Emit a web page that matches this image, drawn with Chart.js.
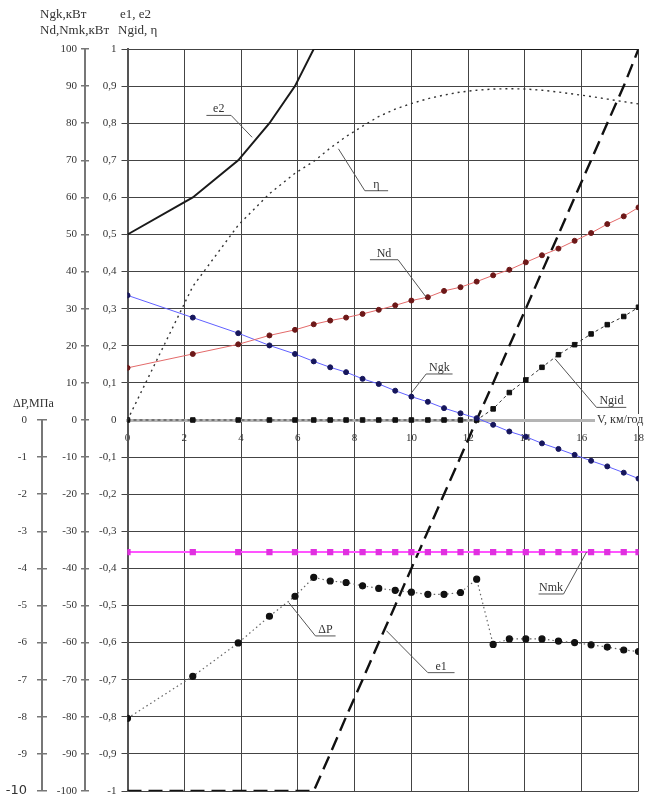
<!DOCTYPE html>
<html>
<head>
<meta charset="utf-8">
<script src="https://cdn.jsdelivr.net/npm/chart.js@4.4.1/dist/chart.umd.min.js"></script>
<style>
  html, body { margin: 0; padding: 0; background: #fff; }
</style>
</head>
<body>
<canvas id="chart" width="656" height="803"></canvas>
<script>
// ============================
// Data
// ============================
const V = [0, 2.3, 3.9, 5.0, 5.9, 6.56, 7.14, 7.7, 8.28, 8.85, 9.43, 10.0, 10.58,
  11.15, 11.73, 12.3, 12.88, 13.45, 14.03, 14.6, 15.18, 15.75, 16.33, 16.9, 17.48, 18.0];

// kW
const Nd = [14.05, 17.8, 20.4, 22.8, 24.3, 25.8, 26.8, 27.6, 28.6, 29.7, 30.9, 32.2, 33.1,
  34.8, 35.8, 37.3, 39.0, 40.5, 42.5, 44.4, 46.2, 48.3, 50.4, 52.8, 54.9, 57.3];
const Ngk = [33.6, 27.6, 23.4, 20.1, 17.8, 15.8, 14.2, 12.9, 11.1, 9.7, 7.9, 6.3, 4.9,
  3.2, 1.8, 0.5, -1.3, -3.1, -4.5, -6.3, -7.8, -9.4, -11.0, -12.5, -14.2, -15.8];
const Nmk = [-35.6, -35.6, -35.6, -35.6, -35.6, -35.6, -35.6, -35.6, -35.6, -35.6, -35.6, -35.6, -35.6,
  -35.6, -35.6, -35.6, -35.6, -35.6, -35.6, -35.6, -35.6, -35.6, -35.6, -35.6, -35.6, -35.6];

// dimensionless
const e1 = [-1, -1, -1, -1, -1, -1, -0.9, -0.8, -0.7, -0.6, -0.5, -0.4, -0.3,
  -0.2, -0.1, 0, 0.1, 0.2, 0.3, 0.4, 0.5, 0.6, 0.7, 0.8, 0.9, 1.0];
const e2 = [0.5, 0.6, 0.7, 0.8, 0.9, 1, 1, 1, 1, 1, 1, 1, 1,
  1, 1, 1, 1, 1, 1, 1, 1, 1, 1, 1, 1, 1];
const eta = [0, 0.36, 0.525, 0.61, 0.665, 0.697, 0.733, 0.764, 0.792, 0.818, 0.838, 0.853, 0.866,
  0.876, 0.884, 0.889, 0.892, 0.893, 0.892, 0.889, 0.884, 0.878, 0.872, 0.865, 0.858, 0.852];
const Ngid = [0, 0, 0, 0, 0, 0, 0, 0, 0, 0, 0, 0, 0,
  0, 0, 0, 0.03, 0.074, 0.108, 0.142, 0.176, 0.203, 0.232, 0.257, 0.279, 0.304];

// MPa
const dP = [-8.04, -6.91, -6.01, -5.29, -4.75, -4.24, -4.34, -4.38, -4.47, -4.54, -4.59, -4.64, -4.70,
  -4.70, -4.65, -4.29, -6.05, -5.9, -5.9, -5.9, -5.96, -6.0, -6.06, -6.12, -6.2, -6.24];

// ============================
// Styles
// ============================
const SERIF = "'Liberation Serif', 'Times New Roman', serif";
const TICK_FONT = { family: SERIF, size: 11 };
const TEXT = "#333";
const GRID = "#444";
const AXIS = "#777";

// callouts: curve point -> joint -> end of underline, in (V, N) units
const callouts = [
  { text: "e2", curve: [4.39, 76.2], joint: [3.65, 82.1], end: [2.78, 82.1] },
  { text: "η", curve: [7.43, 73.1], joint: [8.36, 61.8], end: [9.18, 61.8] },
  { text: "Nd", curve: [10.52, 33.1], joint: [9.53, 43.2], end: [8.54, 43.2] },
  { text: "Ngk", curve: [9.99, 7.2], joint: [10.52, 12.4], end: [11.45, 12.4] },
  { text: "Ngid", curve: [15.06, 16.5], joint: [16.52, 3.4], end: [17.57, 3.4] },
  { text: "Nmk", curve: [16.17, -35.6], joint: [15.36, -46.9], end: [14.48, -46.9] },
  { text: "ΔP", curve: [5.68, -49.2], joint: [6.62, -58.2], end: [7.33, -58.2] },
  { text: "e1", curve: [9.12, -56.8], joint: [10.58, -68.1], end: [11.52, -68.1] },
];

function pts(ys) {
  return V.map((v, i) => ({ x: v, y: ys[i] }));
}

function fmtE(v) {
  const r = Math.round(v * 10) / 10;
  if (Number.isInteger(r)) return String(r);
  return r.toFixed(1).replace(".", ",");
}

// fixed width for a left axis, and no extra label padding at the ends
function fixWidth(w) {
  return (s) => {
    s.width = w;
    s.paddingTop = 6;
    s.paddingBottom = 6;
  };
}

// ============================
// Extra drawing: axis lines, titles, callouts
// ============================
const decorPlugin = {
  id: "decor",
  afterDraw(chart) {
    const { ctx, scales } = chart;
    const x = scales.x, yN = scales.yN, yP = scales.yP;
    ctx.save();

    // dP axis line (lower half only) and N axis line
    ctx.strokeStyle = AXIS;
    ctx.lineWidth = 2;
    const px = yP.right - 5;
    ctx.beginPath();
    ctx.moveTo(px, yP.getPixelForValue(0));
    ctx.lineTo(px, yP.getPixelForValue(-10));
    ctx.stroke();
    const nx = yN.right - 4;
    ctx.beginPath();
    ctx.moveTo(nx, yN.getPixelForValue(100));
    ctx.lineTo(nx, yN.getPixelForValue(-100));
    ctx.stroke();

    // axis titles
    ctx.fillStyle = TEXT;
    ctx.font = "13px " + SERIF;
    ctx.textBaseline = "middle";
    ctx.textAlign = "left";
    ctx.fillText("Ngk,кВт", 40, 15);
    ctx.fillText("Nd,Nmk,кВт", 40, 31);
    ctx.fillText("e1, e2", 120, 15);
    ctx.fillText("Ngid, η", 118, 31);
    ctx.font = "12px " + SERIF;
    ctx.fillText("ΔP,МПа", 13, yP.getPixelForValue(0) - 16);

    const vy = scales.yE.getPixelForValue(0);
    ctx.fillStyle = "#fff";
    ctx.fillRect(595, vy - 6, 61, 12);
    ctx.fillStyle = TEXT;
    ctx.fillText("V, км/год", 597, vy);

    // callouts
    ctx.strokeStyle = "#555";
    ctx.lineWidth = 1;
    ctx.textAlign = "center";
    ctx.textBaseline = "alphabetic";
    callouts.forEach((c) => {
      const p = (q) => [x.getPixelForValue(q[0]), yN.getPixelForValue(q[1])];
      const a = p(c.curve), b = p(c.joint), e = p(c.end);
      ctx.beginPath();
      ctx.moveTo(a[0], a[1]);
      ctx.lineTo(b[0], b[1]);
      ctx.lineTo(e[0], e[1]);
      ctx.stroke();
      ctx.fillText(c.text, (b[0] + e[0]) / 2, b[1] - 3);
    });

    ctx.restore();
  },
};

// ============================
// Chart
// ============================
const ctx = document.getElementById("chart").getContext("2d");
new Chart(ctx, {
  type: "line",
  data: {
    datasets: [
      { label: "e2", data: pts(e2), yAxisID: "yE", borderColor: "#1a1a1a", borderWidth: 2, pointRadius: 0 },
      { label: "η", data: pts(eta), yAxisID: "yE", borderColor: "#333", borderWidth: 1.4, borderDash: [2, 4], pointRadius: 0 },
      {
        label: "Nd", data: pts(Nd), yAxisID: "yN", borderColor: "#e36a6a", borderWidth: 1,
        pointRadius: 2.5, pointBackgroundColor: "#6d1818", pointBorderColor: "#6d1818",
      },
      {
        label: "Ngk", data: pts(Ngk), yAxisID: "yN", borderColor: "#6060ff", borderWidth: 1,
        pointRadius: 2.5, pointBackgroundColor: "#16165c", pointBorderColor: "#16165c",
      },
      {
        label: "Ngid", data: pts(Ngid), yAxisID: "yE", borderColor: "#333", borderWidth: 1, borderDash: [3, 3],
        pointStyle: "rect", pointRadius: 3.2, pointBackgroundColor: "#111", pointBorderColor: "#111",
      },
      {
        label: "Nmk", data: pts(Nmk), yAxisID: "yN", borderColor: "#ff55ff", borderWidth: 2,
        pointStyle: "rect", pointRadius: 3, pointBackgroundColor: "#e030e0", pointBorderColor: "#e030e0",
      },
      {
        label: "ΔP", data: pts(dP), yAxisID: "yP", borderColor: "#666", borderWidth: 1.2, borderDash: [1.5, 3],
        pointRadius: 3, pointBackgroundColor: "#111", pointBorderColor: "#111",
      },
      { label: "e1", data: pts(e1), yAxisID: "yE", borderColor: "#111", borderWidth: 2.4, borderDash: [14, 7], pointRadius: 0 },
    ],
  },
  options: {
    responsive: false,
    animation: false,
    layout: { padding: { top: 49, right: 15, bottom: 12, left: 0 } },
    plugins: { legend: { display: false }, tooltip: { enabled: false } },
    scales: {
      x: {
        type: "linear",
        min: 0,
        max: 18,
        position: { yE: 0 },
        afterFit: (s) => { s.height = 0; },
        ticks: { stepSize: 2, font: TICK_FONT, color: TEXT, padding: 12, maxRotation: 0 },
        grid: { color: GRID, drawTicks: false },
        border: { color: "#b4b4b4", width: 3 },
      },
      yE: {
        type: "linear",
        position: "left",
        weight: 0,
        min: -1,
        max: 1,
        afterFit: fixWidth(38.5),
        ticks: { stepSize: 0.1, font: TICK_FONT, color: TEXT, padding: 5, callback: (v) => fmtE(v) },
        grid: {
          tickLength: 6,
          color: (c) => (c.tick && Math.abs(c.tick.value) < 1e-9 ? "rgba(0,0,0,0)" : GRID),
        },
        border: { color: "#555", width: 2 },
      },
      yN: {
        type: "linear",
        position: "left",
        weight: 1,
        min: -100,
        max: 100,
        afterFit: fixWidth(42),
        ticks: { stepSize: 10, font: TICK_FONT, color: TEXT, padding: 4 },
        grid: { drawOnChartArea: false, tickLength: 8, color: AXIS, lineWidth: 1.5 },
        border: { display: false },
      },
      yP: {
        type: "linear",
        position: "left",
        weight: 2,
        min: -10,
        max: 10,
        afterFit: fixWidth(47),
        ticks: {
          stepSize: 1,
          color: TEXT,
          padding: 10,
          font: (c) => (c.tick && c.tick.value === -10 ? { family: "'DejaVu Sans', sans-serif", size: 13 } : TICK_FONT),
          callback: (v) => (v > 0 ? null : String(v)),
        },
        grid: { drawOnChartArea: false, tickLength: 10, color: AXIS, lineWidth: 1.5 },
        border: { display: false },
      },
    },
  },
  plugins: [decorPlugin],
});
</script>
</body>
</html>
